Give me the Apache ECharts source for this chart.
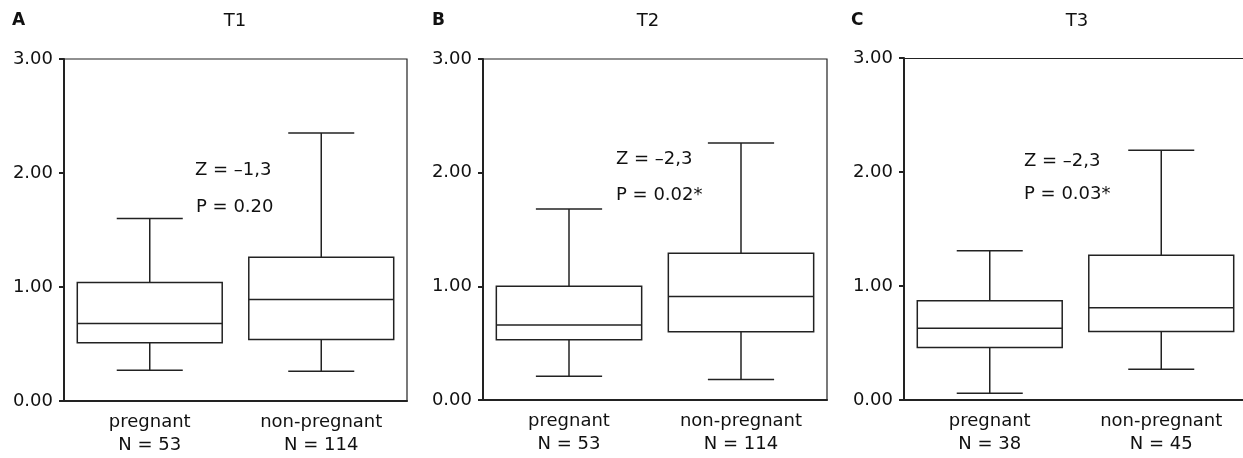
<!DOCTYPE html>
<html>
<head>
<meta charset="utf-8">
<script src="https://cdn.jsdelivr.net/npm/echarts@6/dist/echarts.min.js"></script>
<style>
  html, body { margin: 0; padding: 0; background: #fff; }
  #main { width: 1243px; height: 458px; }
</style>
</head>
<body>
<div id="main"></div>
<script>
  // groups on the x axis, one set per panel
  var catsT1 = ['pregnant\nN = 53', 'non-pregnant\nN = 114'];
  var catsT2 = ['pregnant\nN = 53', 'non-pregnant\nN = 114'];
  var catsT3 = ['pregnant\nN = 38', 'non-pregnant\nN = 45'];

  // [low whisker, Q1, median, Q3, high whisker]
  var boxT1 = [[0.27, 0.51, 0.68, 1.04, 1.60], [0.26, 0.54, 0.89, 1.26, 2.35]];
  var boxT2 = [[0.21, 0.53, 0.66, 1.00, 1.68], [0.18, 0.60, 0.91, 1.29, 2.26]];
  var boxT3 = [[0.06, 0.46, 0.63, 0.87, 1.31], [0.27, 0.60, 0.81, 1.27, 2.19]];

  var yTicks = [0, 1, 2, 3];

  var FONT = '"DejaVu Sans", "Liberation Sans", Arial, sans-serif';
  var INK = '#222';

  var chart = echarts.init(document.getElementById('main'), null, { renderer: 'canvas' });

  function renderBox(params, api) {
    var idx = api.value(0);
    var band = api.size([1, 0])[0];
    var bw = band * 0.845;
    var cw = band * 0.385;
    var lo = api.coord([idx, api.value(1)]);
    var q1 = api.coord([idx, api.value(2)]);
    var md = api.coord([idx, api.value(3)]);
    var q3 = api.coord([idx, api.value(4)]);
    var hi = api.coord([idx, api.value(5)]);
    var x = lo[0];
    var ls = { stroke: INK, lineWidth: 1.5 };
    return {
      type: 'group',
      children: [
        { type: 'line', shape: { x1: x, y1: q3[1], x2: x, y2: hi[1] }, style: ls },
        { type: 'line', shape: { x1: x, y1: q1[1], x2: x, y2: lo[1] }, style: ls },
        { type: 'line', shape: { x1: x - cw / 2, y1: hi[1], x2: x + cw / 2, y2: hi[1] }, style: ls },
        { type: 'line', shape: { x1: x - cw / 2, y1: lo[1], x2: x + cw / 2, y2: lo[1] }, style: ls },
        { type: 'rect', shape: { x: x - bw / 2, y: q3[1], width: bw, height: q1[1] - q3[1] },
          style: { fill: '#fff', stroke: INK, lineWidth: 1.5 } },
        { type: 'line', shape: { x1: x - bw / 2, y1: md[1], x2: x + bw / 2, y2: md[1] }, style: ls }
      ]
    };
  }

  function toData(box) {
    return box.map(function (b, i) { return [i].concat(b); });
  }

  var cats = [catsT1, catsT2, catsT3];
  var boxes = [boxT1, boxT2, boxT3];

  var xAxes = cats.map(function (c, i) {
    return {
      type: 'category', gridIndex: i, data: c,
      axisLine: { lineStyle: { color: INK, width: 2 } },
      axisTick: { alignWithLabel: true, length: 6, lineStyle: { color: INK, width: 2.5 } },
      axisLabel: { color: '#111', fontSize: 18, fontFamily: FONT, lineHeight: 23, margin: 10, interval: 0 },
      splitLine: { show: false }
    };
  });
  // top frame line of panel C (its right side runs off the picture)
  xAxes.push({
    type: 'category', gridIndex: 2, data: catsT3, position: 'top',
    axisLine: { lineStyle: { color: INK, width: 1.2 } },
    axisTick: { show: false }, axisLabel: { show: false }, splitLine: { show: false }
  });

  var option = {
    animation: false,
    backgroundColor: '#fff',
    grid: [
      { left: 64, top: 59, width: 343, height: 342, show: true, borderColor: INK, borderWidth: 1.2, outerBoundsMode: 'none' },
      { left: 483, top: 59, width: 344, height: 341, show: true, borderColor: INK, borderWidth: 1.2, outerBoundsMode: 'none' },
      { left: 904, top: 58, width: 343, height: 342, show: false, outerBoundsMode: 'none' }
    ],
    xAxis: xAxes,
    yAxis: cats.map(function (c, i) {
      return {
        type: 'value', gridIndex: i, min: yTicks[0], max: yTicks[yTicks.length - 1], interval: 1,
        axisLine: { show: true, lineStyle: { color: INK, width: 2 } },
        axisTick: { show: true, length: 5, lineStyle: { color: INK, width: 2 } },
        axisLabel: { color: '#111', fontSize: 18, fontFamily: FONT, margin: 11,
          formatter: function (v) { return v.toFixed(2); } },
        splitLine: { show: false }
      };
    }),
    series: boxes.map(function (b, i) {
      return {
        type: 'custom', xAxisIndex: i, yAxisIndex: i,
        renderItem: renderBox,
        data: toData(b),
        encode: { x: 0, y: [1, 2, 3, 4, 5] }
      };
    }),
    graphic: [
      { type: 'text', x: 12, y: 21, style: { text: 'A', font: 'bold 17px ' + FONT, fill: '#111', textVerticalAlign: 'middle' } },
      { type: 'text', x: 235, y: 21, style: { text: 'T1', font: '18px ' + FONT, fill: '#111', textAlign: 'center', textVerticalAlign: 'middle' } },
      { type: 'text', x: 432, y: 21, style: { text: 'B', font: 'bold 17px ' + FONT, fill: '#111', textVerticalAlign: 'middle' } },
      { type: 'text', x: 648, y: 21, style: { text: 'T2', font: '18px ' + FONT, fill: '#111', textAlign: 'center', textVerticalAlign: 'middle' } },
      { type: 'text', x: 851, y: 21, style: { text: 'C', font: 'bold 17px ' + FONT, fill: '#111', textVerticalAlign: 'middle' } },
      { type: 'text', x: 1077, y: 21, style: { text: 'T3', font: '18px ' + FONT, fill: '#111', textAlign: 'center', textVerticalAlign: 'middle' } },

      { type: 'text', x: 195, y: 170, style: { text: 'Z = –1,3', font: '18px ' + FONT, fill: '#111', textVerticalAlign: 'middle' } },
      { type: 'text', x: 196, y: 207, style: { text: 'P = 0.20', font: '18px ' + FONT, fill: '#111', textVerticalAlign: 'middle' } },
      { type: 'text', x: 616, y: 159, style: { text: 'Z = –2,3', font: '18px ' + FONT, fill: '#111', textVerticalAlign: 'middle' } },
      { type: 'text', x: 616, y: 195, style: { text: 'P = 0.02*', font: '18px ' + FONT, fill: '#111', textVerticalAlign: 'middle' } },
      { type: 'text', x: 1024, y: 161, style: { text: 'Z = –2,3', font: '18px ' + FONT, fill: '#111', textVerticalAlign: 'middle' } },
      { type: 'text', x: 1024, y: 194, style: { text: 'P = 0.03*', font: '18px ' + FONT, fill: '#111', textVerticalAlign: 'middle' } }
    ]
  };

  chart.setOption(option);
</script>
</body>
</html>
